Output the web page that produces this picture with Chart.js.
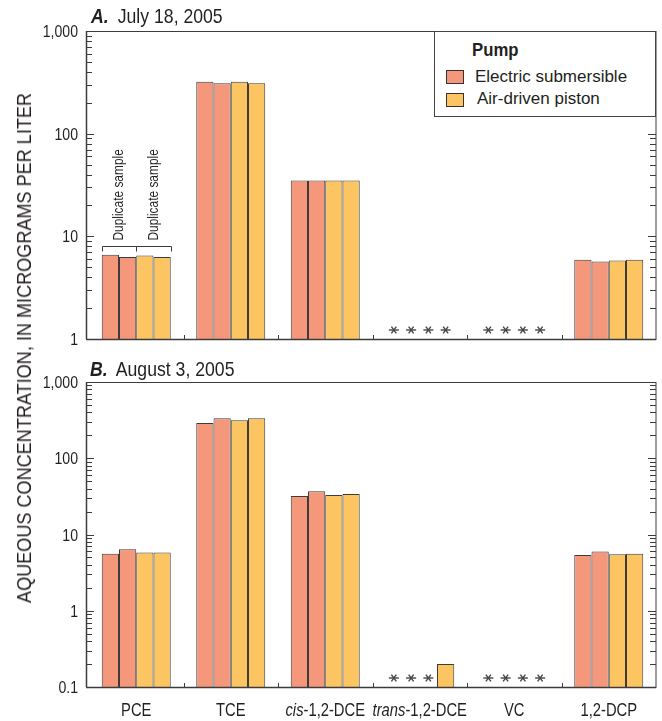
<!DOCTYPE html>
<html>
<head>
<meta charset="utf-8">
<script src="https://cdn.jsdelivr.net/npm/chart.js@4/dist/chart.umd.min.js"></script>
<style>
  body { margin: 0; background: #fff; }
  #wrap { position: relative; width: 662px; height: 721px; font-family: "Liberation Sans", Arial, sans-serif; color: #231f20; }
  canvas { position: absolute; left: 0; }
  #cA { top: 0; }
  #cB { top: 350px; }
  .narrow { display: inline-block; transform-origin: 0 50%; white-space: nowrap; }
  .ptitle { position: absolute; font-size: 21px; line-height: 21px; white-space: nowrap; }
  .ptitle .narrow { transform: scaleX(0.84); }
  .ptitle b { font-style: italic; margin-right: 5px; }
  #ytitle { position: absolute; width: 700px; left: -326px; top: 336px; text-align: center; font-size: 21px; line-height: 24px; white-space: nowrap; }
  #legend { position: absolute; left: 434px; top: 31px; width: 220px; height: 84px; border: 1px solid #444; background: #fff; }
  #legend .lt { position: absolute; left: 37px; top: 9px; font-weight: bold; font-size: 18px; line-height: 18px; }
  #legend .lt .narrow { transform: scaleX(0.93); }
  #legend .sw { position: absolute; left: 11px; width: 16px; height: 12px; border: 1px solid #333; }
  #legend .lb { position: absolute; font-size: 17px; line-height: 18px; white-space: nowrap; }
</style>
</head>
<body>
<div id="wrap">
  <canvas id="cA" width="662" height="350"></canvas>
  <canvas id="cB" width="662" height="371"></canvas>
  <div class="ptitle" style="left:91px; top:5px;"><span class="narrow"><b>A.</b> July 18, 2005</span></div>
  <div class="ptitle" style="left:90px; top:358px;"><span class="narrow"><b>B.</b> August 3, 2005</span></div>
  <div id="ytitle">AQUEOUS CONCENTRATION, IN MICROGRAMS PER LITER</div>
  <div id="legend">
    <div class="lt"><span class="narrow">Pump</span></div>
    <div class="sw" style="top:38px; background:#f5977b;"></div>
    <div class="lb" style="top:36px; left:40px;">Electric submersible</div>
    <div class="sw" style="top:61px; background:#fdc462;"></div>
    <div class="lb" style="top:58px; left:42px;">Air-driven piston</div>
  </div>
</div>
<script>
const FONT = '"Liberation Sans", Arial, sans-serif';

const categories = ["PCE", "TCE", "cis-1,2-DCE", "trans-1,2-DCE", "VC", "1,2-DCP"];
// italic part of each label, if any
const italicPrefix = ["", "", "cis", "trans", "", ""];

// A. July 18, 2005 (null = not detected, shown as *)
const julyElectric1 = [6.6, 320, 35, null, null, 5.9];
const julyElectric2 = [6.3, 310, 35, null, null, 5.7];
const julyAir1 = [6.5, 320, 35, null, null, 5.8];
const julyAir2 = [6.3, 310, 35, null, null, 5.9];

// B. August 3, 2005
const augElectric1 = [5.6, 290, 32, null, null, 5.4];
const augElectric2 = [6.4, 335, 37, null, null, 6.0];
const augAir1 = [5.8, 315, 33, null, null, 5.5];
const augAir2 = [5.8, 335, 34, 0.2, null, 5.6];

const yTicksA = [1, 10, 100, 1000];
const yTicksB = [0.1, 1, 10, 100, 1000];

const electricColor = "#f5977b";
const airColor = "#fdc462";
const lineColor = "#3c3c3c";
const textColor = "#231f20";

// stretch the y title to the length it has in the original
(function () {
  const el = document.getElementById("ytitle");
  const c = document.createElement("canvas").getContext("2d");
  c.font = "21px " + FONT;
  const w = c.measureText(el.textContent).width;
  el.style.transform = "rotate(-90deg) scaleX(" + (510 / w).toFixed(3) + ")";
})();

function narrowText(ctx, text, x, y, font, sx, align) {
  ctx.save();
  ctx.font = font;
  ctx.translate(x, y);
  ctx.scale(sx, 1);
  ctx.textAlign = align || "left";
  ctx.fillText(text, 0, 0);
  ctx.restore();
}

function narrowWidth(ctx, text, font, sx) {
  ctx.save();
  ctx.font = font;
  const w = ctx.measureText(text).width * sx;
  ctx.restore();
  return w;
}

function bars(label, data, color) {
  return {
    label, data,
    backgroundColor: color,
    borderColor: lineColor,
    borderWidth: 1,
    barPercentage: 1,
    categoryPercentage: 0.73,
  };
}

function drawStar(ctx, x, y) {
  ctx.save();
  ctx.strokeStyle = "#444";
  ctx.lineWidth = 1.4;
  for (const a of [0, 60, 120]) {
    const r = a * Math.PI / 180;
    ctx.beginPath();
    ctx.moveTo(x - 5 * Math.cos(r), y - 4 * Math.sin(r));
    ctx.lineTo(x + 5 * Math.cos(r), y + 4 * Math.sin(r));
    ctx.stroke();
  }
  ctx.restore();
}

const framePlugin = {
  id: "frame",
  afterDatasetsDraw(chart, args, opts) {
    const ctx = chart.ctx;
    const { top, bottom, right } = chart.chartArea;
    const left = chart.chartArea.left - 3;
    const y = chart.scales.y;
    const x = chart.scales.x;
    ctx.save();
    ctx.strokeStyle = lineColor;
    ctx.lineWidth = 1;
    ctx.strokeRect(left + 0.5, top + 0.5, right - left - 0.5, bottom - top);
    ctx.lineWidth = 1.5;
    ctx.beginPath();
    ctx.moveTo(left, bottom + 0.5);
    ctx.lineTo(right, bottom + 0.5);
    ctx.moveTo(left + 0.5, top);
    ctx.lineTo(left + 0.5, bottom);
    ctx.stroke();

    // inward log ticks on both sides
    ctx.lineWidth = 1;
    ctx.beginPath();
    for (let d = y.min; d < y.max * 0.999; d *= 10) {
      for (let k = 1; k <= 10; k++) {
        const v = d * k;
        if (v > y.max * 1.001) break;
        const py = Math.round(y.getPixelForValue(v)) + 0.5;
        const len = (k === 1 || k === 10) ? 8 : 6;
        ctx.moveTo(left, py); ctx.lineTo(left + len, py);
        ctx.moveTo(right, py); ctx.lineTo(right - len, py);
      }
    }
    // category boundary ticks
    for (let i = 1; i < categories.length; i++) {
      const px = Math.round((x.getPixelForValue(i - 1) + x.getPixelForValue(i)) / 2) + 0.5;
      ctx.moveTo(px, bottom); ctx.lineTo(px, bottom - 4);
    }
    ctx.stroke();

    // y tick labels
    ctx.fillStyle = textColor;
    ctx.textBaseline = "alphabetic";
    for (const t of y.ticks) {
      narrowText(ctx, t.value.toLocaleString("en-US"), left - 8, y.getPixelForValue(t.value) + 6, "16px " + FONT, 0.88, "right");
    }

    // not detected
    chart.data.datasets.forEach((ds, di) => {
      const meta = chart.getDatasetMeta(di);
      ds.data.forEach((v, i) => {
        if (v === null) drawStar(ctx, meta.data[i].x, bottom - 9);
      });
    });

    if (opts.duplicates) {
      const m0 = chart.getDatasetMeta(0).data[0];
      const m1 = chart.getDatasetMeta(1).data[0];
      const m3 = chart.getDatasetMeta(3).data[0];
      const x0 = Math.round(m0.x - m0.width / 2) + 0.5;
      const xm = Math.round(m1.x + m1.width / 2) + 0.5;
      const x1 = Math.round(m3.x + m3.width / 2) + 0.5;
      const by = Math.round(y.getPixelForValue(8.1)) + 0.5;
      ctx.beginPath();
      ctx.moveTo(x0, by + 5); ctx.lineTo(x0, by); ctx.lineTo(x1, by); ctx.lineTo(x1, by + 5);
      ctx.moveTo(xm, by); ctx.lineTo(xm, by + 5);
      ctx.stroke();
      ctx.textBaseline = "middle";
      for (const cx of [(x0 + xm) / 2, (xm + x1) / 2]) {
        ctx.save();
        ctx.translate(cx, by - 6);
        ctx.rotate(-Math.PI / 2);
        narrowText(ctx, "Duplicate sample", 0, 0, "14px " + FONT, 0.85, "left");
        ctx.restore();
      }
    }

    if (opts.labels) {
      ctx.textBaseline = "alphabetic";
      const f = "18px " + FONT;
      const fi = "italic 18px " + FONT;
      const s = 0.82;
      categories.forEach((c, i) => {
        const it = italicPrefix[i];
        const rest = c.slice(it.length);
        const w1 = it ? narrowWidth(ctx, it, fi, s) : 0;
        const w2 = narrowWidth(ctx, rest, f, s);
        let sx = x.getPixelForValue(i) - (w1 + w2) / 2;
        if (it) {
          narrowText(ctx, it, sx, bottom + 29, fi, s, "left");
          sx += w1;
        }
        narrowText(ctx, rest, sx, bottom + 29, f, s, "left");
      });
    }
    ctx.restore();
  },
};

function makeChart(id, datasets, yMin, yMax, yTicks, padding, opts) {
  return new Chart(document.getElementById(id), {
    type: "bar",
    data: { labels: categories, datasets },
    plugins: [framePlugin],
    options: {
      responsive: false,
      animation: false,
      events: [],
      layout: { padding },
      plugins: { legend: { display: false }, tooltip: { enabled: false }, frame: opts },
      scales: {
        x: {
          grid: { display: false, drawTicks: false },
          border: { display: false },
          ticks: { display: false },
          afterFit: (s) => { s.height = 0; },
        },
        y: {
          type: "logarithmic",
          min: yMin,
          max: yMax,
          grid: { display: false, drawTicks: false },
          border: { display: false },
          ticks: { display: false },
          afterBuildTicks: (s) => { s.ticks = yTicks.map((v) => ({ value: v })); },
          afterFit: (s) => { s.width = 89; },
        },
      },
    },
  });
}

makeChart("cA", [
  bars("Electric submersible", julyElectric1, electricColor),
  bars("Electric submersible (duplicate)", julyElectric2, electricColor),
  bars("Air-driven piston", julyAir1, airColor),
  bars("Air-driven piston (duplicate)", julyAir2, airColor),
], 1, 1000, yTicksA, { top: 31, bottom: 11, right: 6, left: 0 }, { duplicates: true });

makeChart("cB", [
  bars("Electric submersible", augElectric1, electricColor),
  bars("Electric submersible (duplicate)", augElectric2, electricColor),
  bars("Air-driven piston", augAir1, airColor),
  bars("Air-driven piston (duplicate)", augAir2, airColor),
], 0.1, 1000, yTicksB, { top: 32, bottom: 34, right: 6, left: 0 }, { labels: true });
</script>
</body>
</html>
